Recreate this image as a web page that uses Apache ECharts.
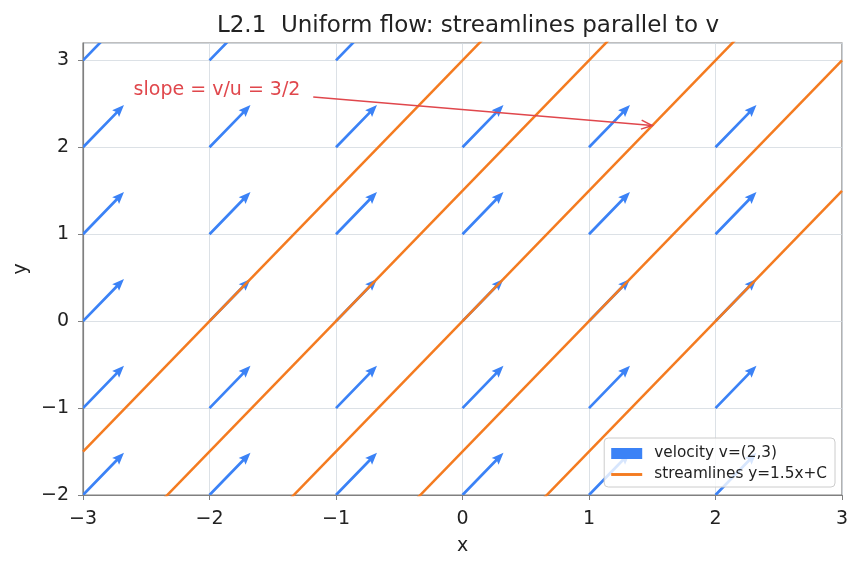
<!DOCTYPE html>
<html>
<head>
<meta charset="utf-8">
<script src="https://cdn.jsdelivr.net/npm/echarts@6/dist/echarts.min.js"></script>
<style>
  html, body { margin: 0; padding: 0; background: #fff; }
  #chart { width: 862px; height: 569px; }
</style>
</head>
<body>
<div id="chart"></div>
<script>
// velocity field v = (u, v) at grid points
var velU = 2;
var velV = 3;
var arrowX = [-3, -2, -1, 0, 1, 2, -3, -2, -1, 0, 1, 2, -3, -2, -1, 0, 1, 2, -3, -2, -1, 0, 1, 2, -3, -2, -1, 0, 1, 2, -3, -2, -1];
var arrowY = [-2, -2, -2, -2, -2, -2, -1, -1, -1, -1, -1, -1, 0, 0, 0, 0, 0, 0, 1, 1, 1, 1, 1, 1, 2, 2, 2, 2, 2, 2, 3, 3, 3];
var arrowScale = 0.162;

// streamlines y = 1.5x + C
var slope = 1.5;
var intercepts = [3, 1.5, 0, -1.5, -3];
var xRange = [-3, 3];

// annotation
var annotText = 'slope = v/u = 3/2';
var annotTextPos = [-2.6, 2.6];
var annotTail = [-1.18, 2.58];
var annotHead = [1.5, 2.25];

var FONT = 'DejaVu Sans';
var BLUE = '#3b82f6';
var ORANGE = '#f47b20';
var RED = '#e0474c';

function minus(v) {
    return String(v).replace('-', '\u2212');
}

function quiver() {
    var myChart = echarts.init(document.getElementById('chart'));

    var arrowData = arrowX.map(function (x, i) {
        return [x, arrowY[i], velU, velV];
    });

    var series = [];

    series.push({
        name: 'velocity v=(2,3)',
        type: 'custom',
        clip: true,
        z: 2,
        itemStyle: { color: BLUE },
        data: arrowData,
        encode: { x: 0, y: 1 },
        renderItem: function (params, api) {
            var x = api.value(0), y = api.value(1), u = api.value(2), v = api.value(3);
            var p0 = api.coord([x, y]);
            var p1 = api.coord([x + u * arrowScale, y + v * arrowScale]);
            var dx = p1[0] - p0[0], dy = p1[1] - p0[1];
            var len = Math.sqrt(dx * dx + dy * dy);
            var ux = dx / len, uy = dy / len;
            var nx = -uy, ny = ux;
            var w = 1.35, hw = 4.8, hl = 12, hal = 10.5;
            function pt(a, b) {
                return [p0[0] + ux * a + nx * b, p0[1] + uy * a + ny * b];
            }
            return {
                type: 'polygon',
                shape: {
                    points: [pt(0, w), pt(len - hal, w), pt(len - hl, hw), p1,
                        pt(len - hl, -hw), pt(len - hal, -w), pt(0, -w)]
                },
                style: { fill: BLUE }
            };
        }
    });

    intercepts.forEach(function (c) {
        series.push({
            name: 'streamlines y=1.5x+C',
            type: 'line',
            z: 3,
            symbol: 'none',
            clip: true,
            lineStyle: { color: ORANGE, width: 2.5 },
            itemStyle: { color: ORANGE },
            data: xRange.map(function (x) { return [x, slope * x + c]; })
        });
    });

    series.push({
        name: 'annotation',
        type: 'custom',
        z: 4,
        clip: false,
        data: [[annotTextPos[0], annotTextPos[1], annotTail[0], annotTail[1], annotHead[0], annotHead[1]]],
        encode: { x: 0, y: 1 },
        renderItem: function (params, api) {
            var pt = api.coord([api.value(0), api.value(1)]);
            var a = api.coord([api.value(2), api.value(3)]);
            var b = api.coord([api.value(4), api.value(5)]);
            var dx = b[0] - a[0], dy = b[1] - a[1];
            var len = Math.sqrt(dx * dx + dy * dy);
            var ux = dx / len, uy = dy / len;
            var hl = 11, hw = 4.5;
            var h1 = [b[0] - ux * hl - uy * hw, b[1] - uy * hl + ux * hw];
            var h2 = [b[0] - ux * hl + uy * hw, b[1] - uy * hl - ux * hw];
            return {
                type: 'group',
                children: [{
                    type: 'text',
                    style: {
                        x: pt[0], y: pt[1] + 4,
                        text: annotText,
                        fill: RED,
                        font: '19px "DejaVu Sans"',
                        textAlign: 'left',
                        textVerticalAlign: 'bottom'
                    }
                }, {
                    type: 'line',
                    shape: { x1: a[0], y1: a[1], x2: b[0], y2: b[1] },
                    style: { stroke: RED, lineWidth: 1.5 }
                }, {
                    type: 'polyline',
                    shape: { points: [h1, b, h2] },
                    style: { stroke: RED, lineWidth: 1.5, fill: null }
                }]
            };
        }
    });

    var option = {
        animation: false,
        title: {
            text: 'L2.1  Uniform flow: streamlines parallel to v',
            left: 463,
            top: 10,
            textAlign: 'center',
            textStyle: { fontFamily: FONT, fontSize: 23, fontWeight: 'normal', color: '#222' }
        },
        legend: {
            orient: 'vertical',
            right: 27,
            bottom: 82,
            padding: [8, 8, 5, 7],
            itemGap: 6,
            itemWidth: 31,
            itemHeight: 11,
            backgroundColor: 'rgba(255,255,255,0.8)',
            borderColor: '#cccccc',
            borderWidth: 1,
            borderRadius: 4,
            textStyle: { fontFamily: FONT, fontSize: 15.3, color: '#222', padding: [0, 0, 0, 7] },
            data: [
                { name: 'velocity v=(2,3)', icon: 'rect', itemStyle: { color: BLUE } },
                { name: 'streamlines y=1.5x+C', icon: 'path://M0,4 L32,4 L32,7 L0,7 Z', itemStyle: { color: ORANGE } }
            ]
        },
        grid: {
            left: 83,
            right: 20,
            top: 43,
            bottom: 74,
            show: true,
            borderColor: '#808080',
            borderWidth: 1.2
        },
        xAxis: {
            type: 'value',
            min: -3,
            max: 3,
            interval: 1,
            name: 'x',
            nameLocation: 'middle',
            nameGap: 42,
            nameTextStyle: { fontFamily: FONT, fontSize: 19, color: '#222' },
            axisLine: { onZero: false, lineStyle: { color: '#808080', width: 1.2 } },
            axisTick: { length: 5, lineStyle: { color: '#808080' } },
            axisLabel: { fontFamily: FONT, fontSize: 19, color: '#222', margin: 15, formatter: minus },
            splitLine: { show: true, lineStyle: { color: '#d3d9e0', width: 0.8 } }
        },
        yAxis: {
            type: 'value',
            min: -2,
            max: 3.2,
            interval: 1,
            name: 'y',
            nameLocation: 'middle',
            nameGap: 44,
            nameTextStyle: { fontFamily: FONT, fontSize: 19, color: '#222' },
            axisLine: { onZero: false, lineStyle: { color: '#808080', width: 1.2 } },
            axisTick: { length: 5, lineStyle: { color: '#808080' } },
            axisLabel: {
                fontFamily: FONT, fontSize: 19, color: '#222', margin: 14, showMaxLabel: false,
                formatter: function (v) { return Number.isInteger(v) ? minus(v) : ''; }
            },
            splitLine: { show: true, lineStyle: { color: '#d3d9e0', width: 0.8 } }
        },
        series: series
    };

    myChart.setOption(option);
    window.addEventListener('resize', function () {
        myChart.resize();
    });
}

quiver();
</script>
</body>
</html>
